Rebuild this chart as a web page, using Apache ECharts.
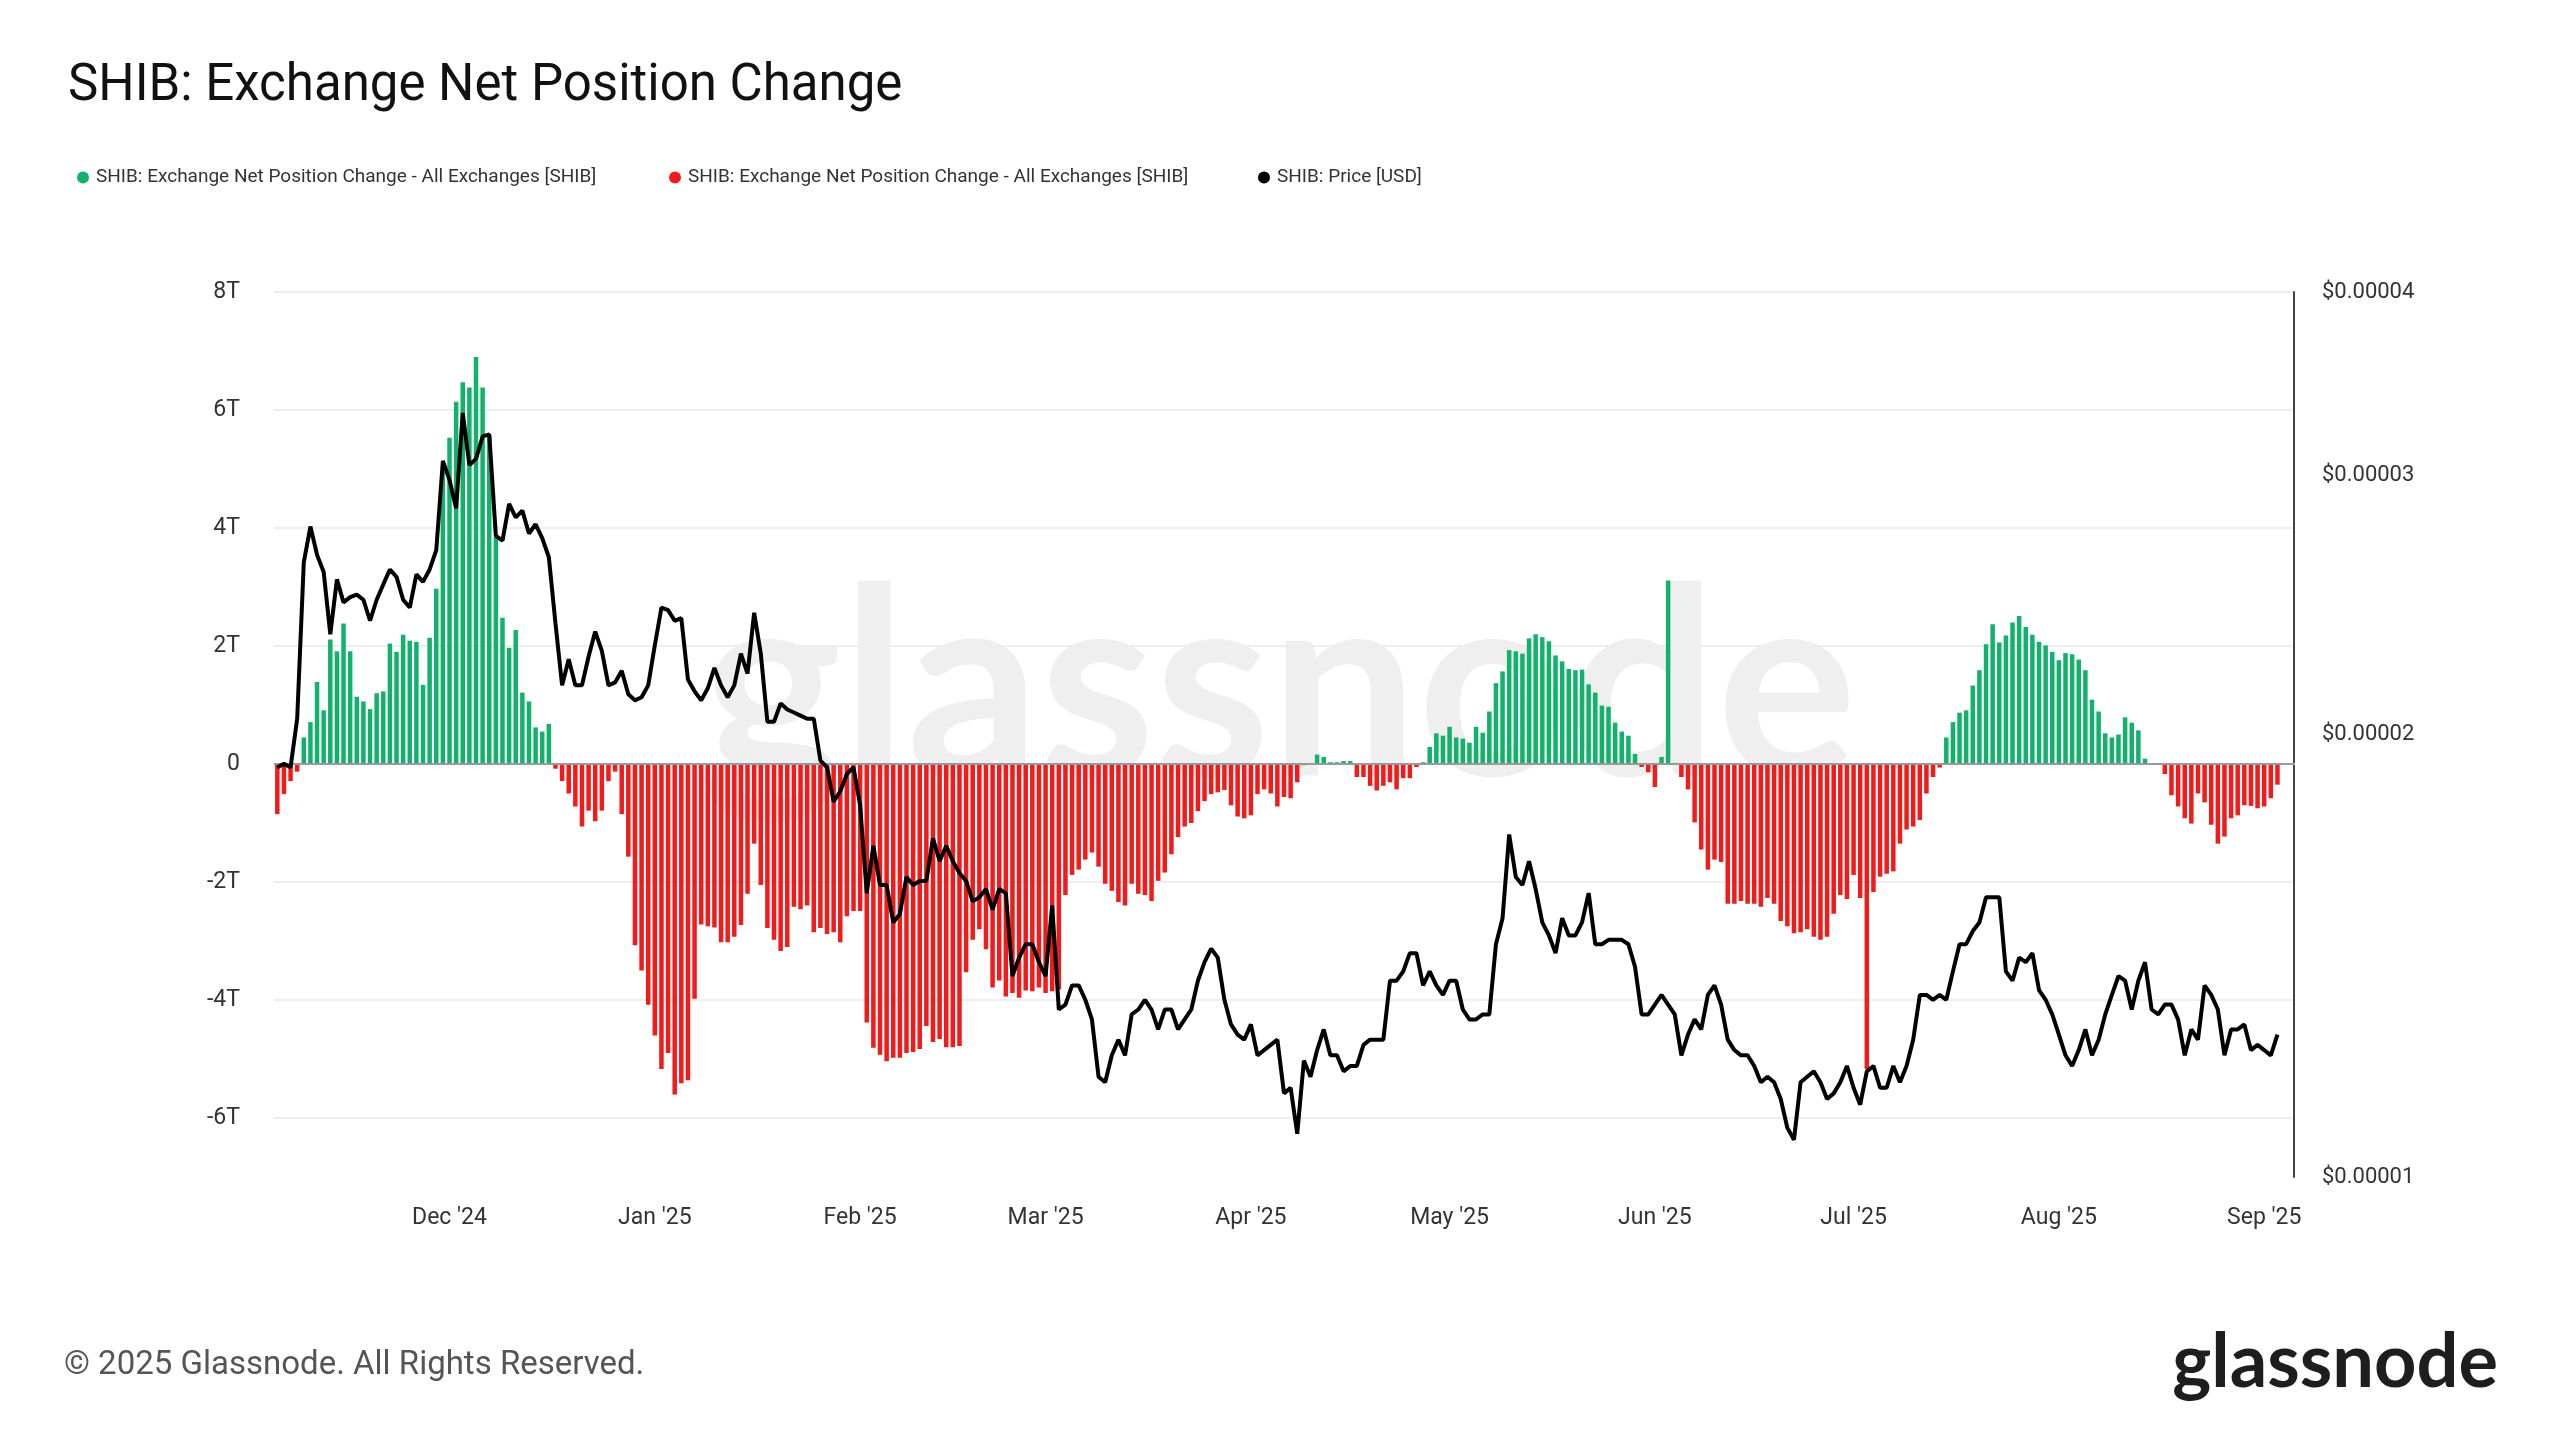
<!DOCTYPE html>
<html><head><meta charset="utf-8">
<script src="https://cdn.jsdelivr.net/npm/echarts@6/dist/echarts.min.js"></script>
<style>html,body{margin:0;padding:0;background:#fff}#c{width:2560px;height:1440px}</style>
</head><body><div id="c"></div>
<script>
// Daily series starting 2024-11-05
const startDate = '2024-11-05';
const extraDays = 2;
const monthNames = ['Jan','Feb','Mar','Apr','May','Jun','Jul','Aug','Sep','Oct','Nov','Dec'];
// Exchange net position change, trillions of SHIB
const netPositionT = [
-0.85,-0.51,-0.29,-0.13,0.45,0.71,1.39,0.91,2.11,1.91,
2.38,1.91,1.14,1.06,0.93,1.20,1.23,2.04,1.90,2.19,
2.09,2.07,1.34,2.14,2.97,4.95,5.53,6.14,6.47,6.38,
6.90,6.38,5.56,3.85,2.48,1.97,2.27,1.21,1.06,0.62,
0.55,0.68,-0.08,-0.29,-0.50,-0.72,-1.06,-0.79,-0.97,-0.79,
-0.29,-0.13,-0.85,-1.57,-3.07,-3.50,-4.08,-4.60,-5.17,-4.90,
-5.60,-5.41,-5.36,-3.98,-2.72,-2.75,-2.77,-3.02,-3.02,-2.93,
-2.73,-2.20,-1.35,-2.05,-2.78,-2.98,-3.17,-3.10,
-2.42,-2.46,-2.40,-2.85,-2.78,-2.88,-2.85,-3.02,-2.58,-2.49,-2.49,
-4.38,-4.81,-4.93,-5.04,-4.98,-4.98,-4.90,-4.88,-4.83,-4.44,-4.71,-4.66,-4.80,-4.80,-4.78,
-3.53,-2.98,-2.80,-3.14,-3.79,-3.67,-3.94,-3.88,-3.96,-3.84,-3.85,-3.79,-3.88,-3.85,-3.82,
-2.22,-1.88,-1.79,-1.62,-1.50,-1.74,-2.03,-2.15,-2.34,-2.40,-2.03,-2.20,-2.22,-2.32,-1.98,
-1.84,-1.53,-1.24,-1.06,-1.00,-0.80,-0.63,-0.51,-0.48,-0.44,-0.70,-0.89,-0.92,-0.87,-0.51,
-0.43,-0.50,-0.72,-0.56,
-0.58,-0.31,-0.02,-0.01,0.16,0.12,0.03,0.03,0.05,0.05,
-0.22,-0.22,-0.37,-0.45,-0.37,-0.31,-0.43,-0.24,-0.24,-0.05,
0.03,0.29,0.52,0.48,0.63,0.45,0.43,0.36,0.63,0.53,
0.89,1.37,1.57,1.93,1.91,1.87,2.13,2.20,2.15,2.08,
1.84,1.74,1.61,1.59,1.60,1.35,1.21,0.99,0.97,0.70,
0.55,0.48,0.17,-0.05,-0.14,-0.39,0.12,3.11,0.02,-0.22,
-0.43,-0.99,-1.45,-1.79,-1.62,-1.66,-2.37,-2.37,-2.32,-2.37,
-2.37,-2.42,-2.27,-2.37,-2.66,-2.75,-2.87,-2.85,-2.80,
-2.93,-2.98,-2.93,-2.54,-2.22,-2.29,-1.88,-2.27,-5.17,-2.17,
-1.91,-1.86,-1.82,-1.35,-1.11,-1.06,-0.95,-0.50,-0.22,-0.06,
0.45,0.71,0.87,0.91,1.33,1.59,2.03,2.37,2.06,2.18,
2.40,2.51,2.32,2.19,2.07,2.01,1.90,1.76,1.88,1.86,
1.77,1.59,1.09,0.89,0.52,0.45,0.50,0.79,0.70,0.57,
0.09,0.0,0.0,-0.17,-0.53,-0.72,-0.92,-1.01,-0.50,-0.65,
-1.03,-1.35,-1.23,-0.92,-0.87,-0.70,-0.71,-0.75,-0.72,-0.58,-0.35
];
// SHIB price, in units of 1e-5 USD
const priceE5 = [
1.90,1.91,1.90,2.05,2.62,2.77,2.65,2.58,2.34,2.55,
2.46,2.48,2.49,2.47,2.39,2.47,2.53,2.59,2.56,2.47,
2.44,2.57,2.54,2.59,2.67,3.07,2.98,2.85,3.31,3.05,
3.08,3.19,3.20,2.73,2.71,2.87,2.81,2.84,2.74,2.78,
2.72,2.64,2.38,2.16,2.25,2.16,2.16,2.26,2.35,2.28,
2.16,2.17,2.21,2.13,2.11,2.12,2.16,2.30,2.44,2.43,
2.39,2.40,2.18,2.14,2.11,2.15,2.22,2.16,2.12,2.16,
2.27,2.20,2.42,2.27,2.04,2.04,2.10,2.08,
2.07,2.06,2.05,2.05,1.92,1.90,1.80,1.83,1.88,1.90,
1.79,1.56,1.68,1.58,1.58,1.49,1.51,1.60,1.58,1.59,
1.59,1.70,1.64,1.68,1.64,1.61,1.59,1.54,1.55,1.57,
1.52,1.57,1.56,1.37,1.41,1.44,1.44,1.40,1.37,1.53,
1.30,1.31,1.35,1.35,1.32,1.28,1.17,1.16,1.21,1.24,
1.21,1.29,1.30,1.32,1.30,1.26,1.30,1.30,1.26,1.28,
1.30,1.36,1.40,1.43,1.41,1.32,1.27,1.25,1.24,1.27,
1.21,1.22,1.23,1.24,1.14,1.15,1.07,
1.20,1.17,1.22,1.26,1.21,1.21,1.18,1.19,1.19,1.23,
1.24,1.24,1.24,1.36,1.36,1.38,1.42,1.42,1.35,1.38,
1.35,1.33,1.36,1.36,1.30,1.28,1.28,1.29,1.29,1.44,
1.50,1.71,1.60,1.58,1.64,1.57,1.49,1.46,1.42,1.50,
1.46,1.46,1.49,1.56,1.44,1.44,1.45,1.45,1.45,1.44,
1.39,1.29,1.29,1.31,1.33,1.31,1.29,1.21,1.25,1.28,
1.26,1.33,1.35,1.31,1.24,1.22,1.21,1.21,1.19,1.16,
1.17,1.16,1.13,1.08,1.06,1.16,1.17,
1.18,1.16,1.13,1.14,1.16,1.19,1.15,1.12,1.18,1.19,
1.15,1.15,1.19,1.16,1.19,1.24,1.33,1.33,1.32,1.33,
1.32,1.38,1.44,1.44,1.47,1.49,1.55,1.55,1.55,1.38,
1.36,1.41,1.40,1.42,1.34,1.32,1.29,1.25,1.21,1.19,
1.22,1.26,1.21,1.24,1.29,1.33,1.37,1.36,1.30,1.36,
1.40,1.30,1.29,1.31,1.31,1.28,1.21,1.26,1.24,1.35,
1.33,1.30,1.21,1.26,1.26,1.27,1.22,1.23,1.22,1.21,1.25
];
const leftTicks = [-6,-4,-2,0,2,4,6,8];
const rightTicksUSD = [0.00001,0.00002,0.00003,0.00004];

const n = netPositionT.length;
const dates = [];
const d0 = new Date(startDate + 'T00:00:00Z');
for (let i = 0; i < n + extraDays; i++) {
  const d = new Date(d0.getTime() + i * 86400000);
  dates.push(d.toISOString().slice(0,10));
}
const pos = netPositionT.map(v => v > 0 ? v : null);
const neg = netPositionT.map(v => v <= 0 ? v : null);
const priceLog = priceE5.slice(0, n).map(p => Math.log10(p * 1e-5));
const isMonthStart = (i, v) => v.slice(8,10) === '01';
const FONT = 'Roboto';
const names = ['SHIB: Exchange Net Position Change - All Exchanges [SHIB]','SHIB: Exchange Net Position Change - All Exchanges [SHIB] ','SHIB: Price [USD]'];
const GREEN = '#13b26c', RED = '#f21b1b';

const chart = echarts.init(document.getElementById('c'));
const legendBase = {top: 163, icon: 'circle', itemWidth: 12, itemHeight: 12, itemGap: 0,
  textStyle: {fontFamily: FONT, fontSize: 19, color: '#333', padding:[0,0,0,2]}};
chart.setOption({
  animation: false,
  backgroundColor: '#fff',
  title: {text: 'SHIB: Exchange Net Position Change', left: 63, top: 57,
    textStyle: {fontFamily: FONT, fontSize: 51, fontWeight: 'normal', color: '#111'}},
  legend: [
    Object.assign({}, legendBase, {left: 72, data: [names[0]]}),
    Object.assign({}, legendBase, {left: 664, data: [names[1]]}),
    Object.assign({}, legendBase, {left: 1253, data: [names[2]]})
  ],
  graphic: [
    {type: 'text', left: 'center', top: 560, z: -10, silent: true,
      style: {text: 'glassnode', fontFamily: 'Lato', fontSize: 262, fontWeight: 'bold', fill: '#efefef'}},
    {type: 'text', left: 64, top: 1349, style: {text: '© 2025 Glassnode. All Rights Reserved.', fontFamily: FONT, fontSize: 33, fill: '#555'}},
    {type: 'text', right: 62, top: 1326, style: {text: 'glassnode', fontFamily: 'Lato', fontSize: 74, fontWeight: 'bold', fill: '#1e1e1e'}}
  ],
  grid: {left: 274, right: 266, top: 292, bottom: 263},
  xAxis: {type: 'category', data: dates, boundaryGap: true,
    axisLine: {lineStyle: {color: '#ddd', width: 2}},
    axisTick: {interval: isMonthStart, alignWithLabel: true, length: 8, lineStyle: {color: '#ccc'}},
    axisLabel: {interval: isMonthStart, margin: 30, fontFamily: FONT, fontSize: 23, color: '#333',
      formatter: v => monthNames[+v.slice(5,7)-1] + " '" + v.slice(2,4)},
    splitLine: {show: false}},
  yAxis: [
    {type: 'value', min: -7, max: 8,
      axisLine: {show: false}, axisTick: {show: false, customValues: leftTicks},
      axisLabel: {customValues: leftTicks, margin: 34, fontFamily: FONT, fontSize: 23, color: '#333',
        formatter: v => v === 0 ? '0' : v + 'T'},
      splitLine: {lineStyle: {color: '#eeeeee', width: 2}}},
    {type: 'value', position: 'right', min: Math.log10(rightTicksUSD[0]), max: Math.log10(rightTicksUSD[3]),
      axisLine: {show: true, lineStyle: {color: '#444', width: 2}},
      axisTick: {show: false, customValues: rightTicksUSD.map(Math.log10)},
      axisLabel: {customValues: rightTicksUSD.map(Math.log10), margin: 28, fontFamily: FONT, fontSize: 22, color: '#333',
        formatter: v => '$' + Math.pow(10, v).toFixed(5)},
      splitLine: {show: false}}
  ],
  series: [
    {name: names[0], type: 'bar', data: pos, itemStyle: {color: GREEN}, barWidth: 4.5, barGap: '-100%', yAxisIndex: 0,
      markLine: {silent: true, symbol: 'none', label: {show: false}, lineStyle: {color: '#999', width: 2, type: 'solid'}, data: [{yAxis: 0}]}},
    {name: names[1], type: 'bar', data: neg, itemStyle: {color: RED}, barWidth: 4.5, barGap: '-100%', yAxisIndex: 0},
    {name: names[2], type: 'line', data: priceLog, yAxisIndex: 1, showSymbol: false, z: 5,
      itemStyle: {color: '#000'}, lineStyle: {color: '#000', width: 4}}
  ]
});
</script></body></html>
